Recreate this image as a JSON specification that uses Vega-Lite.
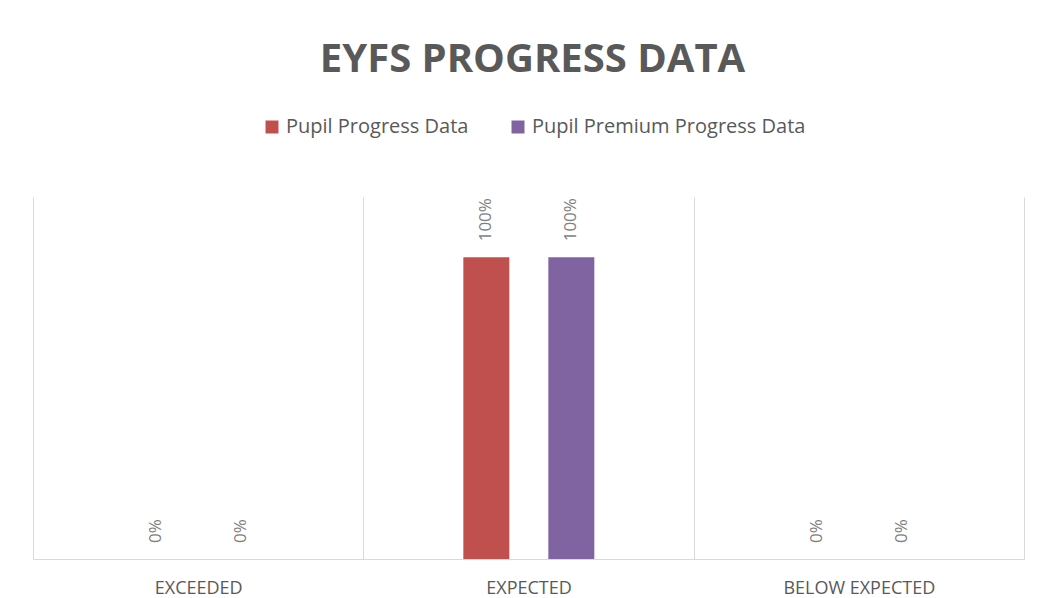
{
  "$schema": "https://vega.github.io/schema/vega-lite/v6.json",
  "width": 991,
  "height": 362,
  "autosize": {"type": "none"},
  "padding": {"left": 33, "top": 197, "right": 24, "bottom": 39},
  "background": "white",
  "config": {"view": {"stroke": null}},
  "title": {
    "text": "EYFS PROGRESS DATA",
    "font": "Open Sans",
    "fontSize": 40,
    "fontWeight": "bold",
    "color": "#595959",
    "anchor": "middle",
    "baseline": "alphabetic",
    "offset": 5,
    "dx": 4
  },
  "data": {
    "values": [
      {"category": "Exceeded", "series": "Pupil Progress Data", "value": 0},
      {"category": "Exceeded", "series": "Pupil Premium Progress Data", "value": 0},
      {"category": "Expected", "series": "Pupil Progress Data", "value": 1},
      {"category": "Expected", "series": "Pupil Premium Progress Data", "value": 1},
      {"category": "Below Expected", "series": "Pupil Progress Data", "value": 0},
      {"category": "Below Expected", "series": "Pupil Premium Progress Data", "value": 0}
    ]
  },
  "encoding": {
    "x": {
      "field": "category",
      "type": "nominal",
      "sort": ["Exceeded", "Expected", "Below Expected"],
      "scale": {"paddingInner": 0, "paddingOuter": 0},
      "axis": {
        "title": null,
        "labelAngle": 0,
        "labelExpr": "upper(datum.label)",
        "labelFont": "Open Sans",
        "labelFontSize": 18,
        "labelColor": "#595959",
        "labelPadding": 20,
        "ticks": false,
        "domain": true,
        "domainColor": "#d9d9d9",
        "domainWidth": 1,
        "grid": true,
        "gridColor": "#d9d9d9",
        "gridWidth": 1,
        "tickBand": "extent"
      }
    },
    "xOffset": {
      "field": "series",
      "type": "nominal",
      "sort": ["Pupil Progress Data", "Pupil Premium Progress Data"],
      "scale": {"range": [100, 231], "paddingInner": 0.4588, "paddingOuter": 0}
    },
    "y": {
      "field": "value",
      "type": "quantitative",
      "scale": {"domain": [0, 1.2]},
      "axis": null
    }
  },
  "layer": [
    {
      "mark": {"type": "bar"},
      "encoding": {
        "color": {
          "field": "series",
          "type": "nominal",
          "sort": ["Pupil Progress Data", "Pupil Premium Progress Data"],
          "scale": {"range": ["#C0504D", "#8064A2"]},
          "legend": {
            "title": null,
            "orient": "none",
            "legendX": 229,
            "legendY": -80,
            "direction": "horizontal",
            "symbolType": "square",
            "symbolSize": 169,
            "symbolStrokeWidth": 0,
            "symbolOpacity": 1,
            "labelFont": "Open Sans",
            "labelFontSize": 20,
            "labelColor": "#595959",
            "labelOffset": 4,
            "columnPadding": 39,
            "labelLimit": 400
          }
        }
      }
    },
    {
      "mark": {
        "type": "text",
        "angle": 270,
        "align": "left",
        "baseline": "middle",
        "dx": 16,
        "font": "Open Sans",
        "fontSize": 17,
        "color": "#7f7f7f"
      },
      "encoding": {
        "text": {"field": "value", "type": "quantitative", "format": ".0%"}
      }
    }
  ]
}
